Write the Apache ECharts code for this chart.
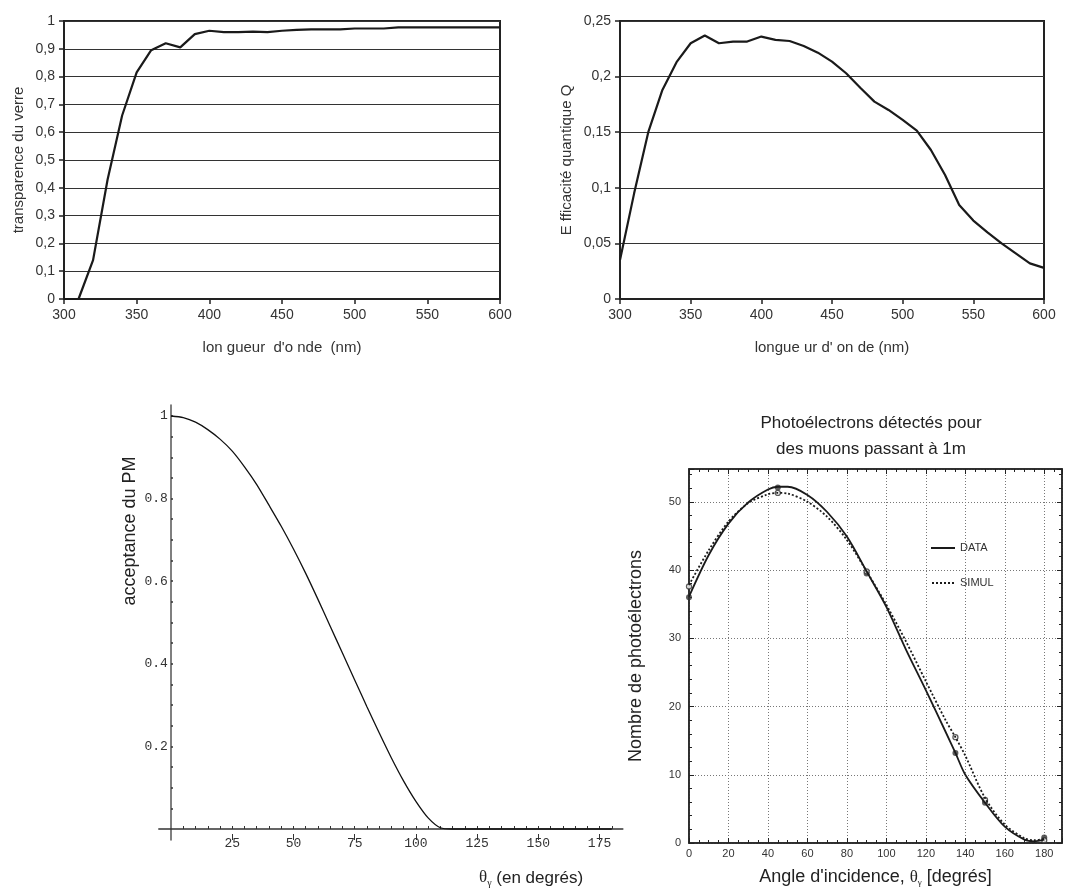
<!DOCTYPE html>
<html>
<head>
<meta charset="utf-8">
<script src="https://cdn.jsdelivr.net/npm/echarts@6/dist/echarts.min.js"></script>
<style>
html,body{margin:0;padding:0;background:#fff;}
#main{width:1068px;height:890px;}
</style>
</head>
<body>
<div id="main"></div>
<script>
// ---- Data ----
// Chart 1 & 2: wavelength (nm)
const wavelengths = [300,310,320,330,340,350,360,370,380,390,400,410,420,430,440,450,460,470,480,490,500,510,520,530,540,550,560,570,580,590,600];
const glassTransparency = [0,0,0.14,0.43,0.66,0.815,0.895,0.92,0.905,0.953,0.965,0.96,0.96,0.962,0.96,0.965,0.968,0.97,0.97,0.97,0.973,0.973,0.973,0.977,0.977,0.977,0.977,0.977,0.977,0.977,0.977];
const quantumEfficiency = [0.035,0.095,0.15,0.188,0.213,0.23,0.237,0.23,0.2315,0.2315,0.236,0.233,0.232,0.2275,0.2215,0.2135,0.203,0.19,0.1775,0.17,0.161,0.1515,0.134,0.1115,0.0845,0.0705,0.06,0.05,0.041,0.032,0.028];

// Chart 3: acceptance vs angle
const accAngles = [0,5,10,15,20,25,30,35,40,45,50,55,60,65,70,75,80,85,90,95,100,105,110,115,120,125,130,135,140,145,150,155,160,165,170,175,180];
const pmAcceptance = [1.0,0.996,0.985,0.967,0.944,0.915,0.877,0.834,0.784,0.733,0.678,0.619,0.556,0.491,0.426,0.361,0.296,0.233,0.172,0.116,0.067,0.027,0.003,0,0,0,0,0,0,0,0,0,0,0,0,0,0];

// Chart 4: photoelectrons vs incidence angle
const fitAngles = [0,10,20,30,40,45,50,60,70,80,90,100,110,120,130,135,140,150,160,170,175,180];
const dataFit = [36.1,42.2,46.8,49.9,51.8,52.2,52.2,51.0,48.5,44.9,39.8,34.6,28.3,22.4,16.3,13.2,10.0,5.9,2.4,0.5,0.25,0.5];
const simulFit = [37.8,42.9,47.1,49.8,51.1,51.3,51.2,50.0,47.8,44.4,39.8,34.9,29.5,23.7,18.0,15.5,12.8,6.6,2.7,0.7,0.4,0.6];
const pointAngles = [0,45,90,135,150,180];
const dataPoints = [36.0,52.1,39.5,13.2,5.9,0.8];
const simulPoints = [37.6,51.3,39.8,15.5,6.3,0.4];

// tick value lists
const accTickX = [5,10,15,20,25,30,35,40,45,50,55,60,65,70,75,80,85,90,95,100,105,110,115,120,125,130,135,140,145,150,155,160,165,170,175,180];
const accMajorX = [25,50,75,100,125,150,175];
const accTickY = [0.05,0.1,0.15,0.2,0.25,0.3,0.35,0.4,0.45,0.5,0.55,0.6,0.65,0.7,0.75,0.8,0.85,0.9,0.95,1];
const accLabelY = [0.2,0.4,0.6,0.8,1];

const zip = (xs, ys) => xs.map((x, i) => [x, ys[i]]);
const SANS = 'Liberation Sans, Arial, sans-serif';
const MONO = 'Liberation Mono, DejaVu Sans Mono, monospace';
const comma = v => String(+v.toFixed(3)).replace('.', ',');

const chart = echarts.init(document.getElementById('main'), null, {renderer: 'canvas'});

const excelX = (grid, name) => ({
  type: 'value', gridIndex: grid, min: 300, max: 600, interval: 50,
  axisLine: {show: true, lineStyle: {color: '#222', width: 2}},
  axisTick: {show: true, inside: false, length: 5, lineStyle: {color: '#222', width: 1.5}},
  axisLabel: {color: '#333', fontSize: 14, fontFamily: SANS, margin: 9},
  splitLine: {show: false},
  name: name, nameLocation: 'middle', nameGap: 41,
  nameTextStyle: {color: '#333', fontSize: 15, fontFamily: SANS}
});

const option = {
  animation: false,
  backgroundColor: '#fff',
  title: [{
    text: 'Photoélectrons détectés pour\ndes muons passant à 1m',
    left: 866, top: 405, textAlign: 'center',
    textStyle: {fontSize: 17, fontWeight: 'normal', color: '#222', fontFamily: SANS, lineHeight: 26}
  }],
  legend: {
    data: [
      {name: 'DATA', icon: 'path://M0,0h24v2h-24z'},
      {name: 'SIMUL', icon: 'path://M0,0h2v2h-2zM4,0h2v2h-2zM8,0h2v2h-2zM12,0h2v2h-2zM16,0h2v2h-2zM20,0h2v2h-2z'}
    ],
    left: 926, top: 537.5, orient: 'vertical',
    itemWidth: 24, itemHeight: 2, itemGap: 24,
    textStyle: {fontSize: 11, color: '#333', fontFamily: SANS}
  },
  grid: [
    {left: 64, top: 21, width: 436, height: 278, show: true, borderColor: '#222', borderWidth: 2, backgroundColor: 'transparent'},
    {left: 620, top: 21, width: 424, height: 278, show: true, borderColor: '#222', borderWidth: 2, backgroundColor: 'transparent'},
    {left: 158.8, top: 405, width: 464, height: 435},
    {left: 689, top: 469, width: 373, height: 374, show: true, borderColor: '#222', borderWidth: 1.5, backgroundColor: 'transparent'}
  ],
  xAxis: [
    excelX(0, 'lon gueur  d\'o nde  (nm)'),
    excelX(1, 'longue ur d\' on de (nm)'),
    {
      type: 'value', gridIndex: 2, min: -5, max: 184.5,
      axisLine: {show: true, onZero: true, lineStyle: {color: '#333', width: 1.5}},
      axisTick: {show: true, inside: true, length: 3, customValues: accTickX, lineStyle: {color: '#333', width: 1}},
      axisLabel: {show: true, customValues: accMajorX, color: '#333', fontSize: 13, fontFamily: MONO, margin: -3},
      splitLine: {show: false}
    },
    {
      type: 'value', gridIndex: 2, min: -5, max: 184.5, position: 'bottom',
      axisLine: {show: false, onZero: true},
      axisTick: {show: true, inside: true, length: 6, customValues: accMajorX, lineStyle: {color: '#333', width: 1}},
      axisLabel: {show: false},
      splitLine: {show: false}
    },
    {
      type: 'value', gridIndex: 3, min: 0, max: 189, interval: 20, position: 'bottom',
      axisLine: {show: true, onZero: false, lineStyle: {color: '#222', width: 1.5}},
      axisTick: {show: true, inside: true, length: 5, lineStyle: {color: '#222'}},
      minorTick: {show: true, splitNumber: 4, length: 3, lineStyle: {color: '#222'}},
      axisLabel: {color: '#333', fontSize: 11, fontFamily: SANS, margin: 5, showMaxLabel: false,
        formatter: v => (v % 20 === 0 ? String(v) : '')},
      splitLine: {show: true, lineStyle: {color: '#777', type: [1, 2], width: 1}},
      name: 'Angle d\'incidence, {t|θ}{g|γ} [degrés]', nameLocation: 'middle', nameGap: 25,
      nameTextStyle: {color: '#222', fontSize: 18, fontFamily: SANS,
        rich: {t: {fontSize: 17, fontFamily: 'Liberation Serif, serif', color: '#222'},
               g: {fontSize: 9, fontFamily: 'Liberation Serif, serif', color: '#222', verticalAlign: 'bottom', padding: [10, 0, 0, 0]}}}
    },
    {
      type: 'value', gridIndex: 3, min: 0, max: 189, interval: 20, position: 'top',
      axisLine: {show: true, onZero: false, lineStyle: {color: '#222', width: 1.5}},
      axisTick: {show: true, inside: true, length: 5, lineStyle: {color: '#222'}},
      minorTick: {show: true, splitNumber: 4, length: 3, lineStyle: {color: '#222'}},
      axisLabel: {show: false},
      splitLine: {show: false}
    }
  ],
  yAxis: [
    {
      type: 'value', gridIndex: 0, min: 0, max: 1, interval: 0.1,
      axisLine: {show: true, lineStyle: {color: '#222', width: 2}},
      axisTick: {show: true, inside: false, length: 5, lineStyle: {color: '#222', width: 1.5}},
      axisLabel: {color: '#333', fontSize: 14, fontFamily: SANS, margin: 9, formatter: comma},
      splitLine: {show: true, lineStyle: {color: '#333', width: 1}},
      name: 'transparence du verre', nameLocation: 'middle', nameGap: 38,
      nameTextStyle: {color: '#333', fontSize: 15, fontFamily: SANS}
    },
    {
      type: 'value', gridIndex: 1, min: 0, max: 0.25, interval: 0.05,
      axisLine: {show: true, lineStyle: {color: '#222', width: 2}},
      axisTick: {show: true, inside: false, length: 5, lineStyle: {color: '#222', width: 1.5}},
      axisLabel: {color: '#333', fontSize: 14, fontFamily: SANS, margin: 9, formatter: comma},
      splitLine: {show: true, lineStyle: {color: '#333', width: 1}},
      name: 'E fficacité quantique Q', nameLocation: 'middle', nameGap: 46,
      nameTextStyle: {color: '#333', fontSize: 15, fontFamily: SANS}
    },
    {
      type: 'value', gridIndex: 2, min: -0.0266, max: 1.0266,
      axisLine: {show: true, onZero: true, lineStyle: {color: '#555', width: 1.5}},
      axisTick: {show: true, inside: true, length: 2, customValues: accTickY, lineStyle: {color: '#333', width: 1.5}},
      axisLabel: {show: true, customValues: accLabelY, color: '#333', fontSize: 13, fontFamily: MONO, margin: -9,
        formatter: v => (Math.abs(v - 1) < 1e-9 ? '1' : v.toFixed(1))},
      splitLine: {show: false}
    },
    {
      type: 'value', gridIndex: 3, min: 0, max: 54.8, interval: 10, position: 'left',
      axisLine: {show: true, onZero: false, lineStyle: {color: '#222', width: 1.5}},
      axisTick: {show: true, inside: true, length: 5, lineStyle: {color: '#222'}},
      minorTick: {show: true, splitNumber: 5, length: 3, lineStyle: {color: '#222'}},
      axisLabel: {color: '#333', fontSize: 11, fontFamily: SANS, margin: 8, showMaxLabel: false,
        formatter: v => (v % 10 === 0 ? String(v) : '')},
      splitLine: {show: true, lineStyle: {color: '#777', type: [1, 2], width: 1}},
      name: 'Nombre de photoélectrons', nameLocation: 'middle', nameGap: 44,
      nameTextStyle: {color: '#222', fontSize: 18, fontFamily: SANS}
    },
    {
      type: 'value', gridIndex: 3, min: 0, max: 54.8, interval: 10, position: 'right',
      axisLine: {show: true, onZero: false, lineStyle: {color: '#222', width: 1.5}},
      axisTick: {show: true, inside: true, length: 5, lineStyle: {color: '#222'}},
      minorTick: {show: true, splitNumber: 5, length: 3, lineStyle: {color: '#222'}},
      axisLabel: {show: false},
      splitLine: {show: false}
    }
  ],
  graphic: [
    {type: 'text', x: 130, y: 531, rotation: Math.PI / 2,
      style: {text: 'acceptance du PM', font: '18px Liberation Sans, Arial, sans-serif', fill: '#222', align: 'center', verticalAlign: 'middle'}},
    {type: 'text', x: 479, y: 868,
      style: {text: '{t|θ}{g|γ}{e| (en degrés)}', fill: '#222',
        rich: {t: {fontSize: 17, fontFamily: 'Liberation Serif, serif', fill: '#222'},
               g: {fontSize: 10, fontFamily: 'Liberation Serif, serif', fill: '#222', padding: [10, 0, 0, 0]},
               e: {fontSize: 17, fontFamily: 'Liberation Sans Narrow, Liberation Sans, Arial, sans-serif', fill: '#222'}}}}
  ],
  series: [
    {name: 'transparence', type: 'line', xAxisIndex: 0, yAxisIndex: 0, data: zip(wavelengths, glassTransparency),
      symbol: 'none', lineStyle: {color: '#1a1a1a', width: 2.2}},
    {name: 'efficacite', type: 'line', xAxisIndex: 1, yAxisIndex: 1, data: zip(wavelengths, quantumEfficiency),
      symbol: 'none', lineStyle: {color: '#1a1a1a', width: 2.2}},
    {name: 'acceptance', type: 'line', xAxisIndex: 2, yAxisIndex: 2, data: zip(accAngles, pmAcceptance),
      symbol: 'none', smooth: 0.25, lineStyle: {color: '#111', width: 1.3}},
    {name: 'DATA', type: 'line', xAxisIndex: 4, yAxisIndex: 3, data: zip(fitAngles, dataFit),
      symbol: 'none', smooth: 0.3, lineStyle: {color: '#1a1a1a', width: 1.8}, itemStyle: {color: '#1a1a1a'}},
    {name: 'SIMUL', type: 'line', xAxisIndex: 4, yAxisIndex: 3, data: zip(fitAngles, simulFit),
      symbol: 'none', smooth: 0.3, lineStyle: {color: '#1a1a1a', width: 1.8, type: [2, 2]}, itemStyle: {color: '#1a1a1a'}},
    {name: 'DATA points', type: 'scatter', xAxisIndex: 4, yAxisIndex: 3, data: zip(pointAngles, dataPoints),
      symbol: 'circle', symbolSize: 6, itemStyle: {color: '#333'}},
    {name: 'SIMUL points', type: 'scatter', xAxisIndex: 4, yAxisIndex: 3, data: zip(pointAngles, simulPoints),
      symbol: 'circle', symbolSize: 5, itemStyle: {color: '#fff', borderColor: '#333', borderWidth: 1.3}}
  ]
};
chart.setOption(option);
</script>
</body>
</html>
